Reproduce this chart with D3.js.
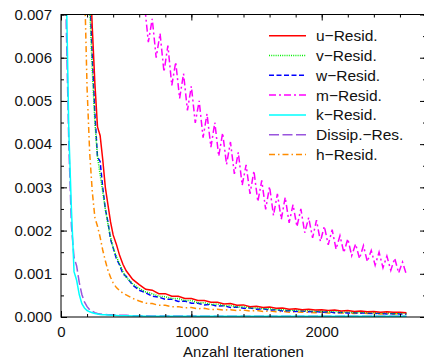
<!DOCTYPE html>
<html>
<head>
<meta charset="utf-8">
<script src="https://cdn.jsdelivr.net/npm/d3@7"></script>
<style>
  body { margin: 0; background: #fff; }
  text { font-family: "Liberation Sans", Arial, sans-serif; fill: #111; }
</style>
</head>
<body>
<div id="chart"></div>
<script>
// iterations shared by u, v, w, k, Dissip and h residuals
var iters = [0,20,40,60,80,100,120,140,160,180,200,220,240,260,280,300,320,340,360,380,400,425,450,475,500,
  550,600,650,700,750,800,850,900,950,1000,1050,1100,1150,1200,1250,1300,1350,1400,1450,1500,1550,1600,1650,
  1700,1750,1800,1850,1900,1950,2000,2050,2100,2150,2200,2250,2300,2350,2400,2450,2500,2550,2600,2650];

var uResid = [0.05,0.045,0.04,0.035,0.03,0.026,0.022,0.019,0.016,0.013,0.0105,0.0082,0.0067,0.0054,0.0044,0.0042,0.00365,0.0030,0.0026,0.0022,0.0019,0.00168,0.00142,0.00122,0.00107,
  0.00087,0.00075,0.00064,0.00062,0.00054,0.00054,0.00048,0.00048,0.00043,0.00043,0.00038,0.00038,0.00034,0.00034,0.00030,0.00031,0.00027,0.00028,0.00024,0.00025,0.00022,0.00023,0.00020,
  0.00021,0.00018,0.00019,0.00017,0.00018,0.00016,0.00017,0.00015,0.00016,0.00014,0.00015,0.00013,0.00014,0.00012,0.00013,0.00011,0.00012,0.00011,0.00011,0.00010];

var vResid = [0.05,0.045,0.04,0.035,0.03,0.025,0.021,0.018,0.015,0.012,0.0095,0.0072,0.0057,0.0045,0.0037,0.0033,0.0029,0.0025,0.00215,0.00185,0.0016,0.0014,0.00122,0.00105,0.00092,
  0.00077,0.00066,0.00058,0.00054,0.00048,0.00047,0.00043,0.00043,0.00038,0.00038,0.00033,0.00033,0.00029,0.00030,0.00026,0.00027,0.00023,0.00024,0.00021,0.00021,0.00019,0.00019,0.00017,
  0.00017,0.00015,0.00016,0.00014,0.00015,0.00013,0.00014,0.00012,0.00013,0.00011,0.00012,0.00010,0.00011,0.00010,0.00010,0.00009,0.00010,0.00008,0.00009,0.00008];

var wResid = [0.05,0.045,0.04,0.035,0.03,0.025,0.021,0.018,0.015,0.012,0.0098,0.0075,0.0060,0.0047,0.0037,0.0036,0.0030,0.0025,0.0022,0.0018,0.0016,0.00135,0.0012,0.00100,0.00094,
  0.00074,0.00062,0.00056,0.00048,0.00046,0.00041,0.00041,0.00036,0.00037,0.00032,0.00032,0.00028,0.00029,0.00025,0.00026,0.00022,0.00023,0.00020,0.00021,0.00018,0.00019,0.00016,0.00017,
  0.00014,0.00015,0.00013,0.00014,0.00012,0.00013,0.00011,0.00012,0.00010,0.00011,0.00009,0.00010,0.00009,0.00009,0.00008,0.00009,0.00007,0.00008,0.00007,0.00007];

var kResid = [0.05,0.02,0.0078,0.0043,0.0025,0.00105,0.00085,0.00052,0.00031,0.00021,0.00015,0.00012,0.0001,0.00008,0.00007,0.00006,0.00005,0.00005,0.000045,0.00004,0.00004,0.000035,0.00003,0.00003,0.00003,
  0.000025,0.000025,0.00002,0.00002,0.00002,0.00002,0.00002,0.00002,0.00002,0.00002,0.000015,0.000015,0.000015,0.000015,0.000015,0.000015,0.000015,0.000015,0.000015,0.000015,0.000015,0.000015,0.000015,
  0.000015,0.000015,0.000015,0.000015,0.000015,0.000015,0.000015,0.000015,0.000015,0.000015,0.000015,0.000015,0.000015,0.000015,0.000015,0.000015,0.000015,0.000015,0.000015,0.000015];

var dissipRes = [0.05,0.02,0.0068,0.0040,0.0021,0.00138,0.00118,0.0008,0.00052,0.00035,0.00024,0.00017,0.00013,0.0001,0.00008,0.00007,0.00006,0.00006,0.00005,0.00005,0.00005,0.00004,0.00004,0.00004,0.00004,
  0.00003,0.00003,0.00003,0.000025,0.000025,0.000025,0.000025,0.000025,0.000025,0.000025,0.00002,0.00002,0.00002,0.00002,0.00002,0.00002,0.00002,0.00002,0.00002,0.00002,0.00002,0.00002,0.00002,
  0.000015,0.000015,0.000015,0.000015,0.000015,0.000015,0.000015,0.000015,0.000015,0.000015,0.000015,0.000015,0.000015,0.000015,0.000015,0.000015,0.000015,0.000015,0.000015,0.000015];

var hResid = [0.05,0.045,0.04,0.035,0.03,0.026,0.021,0.016,0.0115,0.0078,0.0053,0.0038,0.0029,0.0023,0.0021,0.00185,0.00155,0.0013,0.00108,0.00092,0.00079,0.00068,0.00061,0.00055,0.00051,
  0.00043,0.00037,0.00032,0.00031,0.00027,0.00027,0.00024,0.00024,0.00021,0.00022,0.00019,0.00020,0.00017,0.00018,0.00016,0.00017,0.00015,0.00016,0.00014,0.00015,0.00013,0.00014,0.00012,
  0.00013,0.00011,0.00012,0.00011,0.00011,0.00010,0.00011,0.00009,0.00010,0.00009,0.00010,0.00008,0.00009,0.00008,0.00009,0.00007,0.00008,0.00007,0.00008,0.00007];

// m residual has its own zigzag sampling
var mIters = [620,640,670,700,730,760,790,820,850,880,910,940,970,1000,1030,1060,1090,1120,1150,1180,1210,1240,1270,1300,1330,
  1360,1390,1420,1450,1480,1510,1540,1570,1600,1630,1660,1690,1720,1750,1780,1810,1840,1870,1900,1930,1960,1990,2020,2050,
  2080,2110,2140,2170,2200,2230,2260,2290,2320,2350,2380,2410,2440,2470,2500,2530,2560,2590,2620,2650];
var mResid = [0.0078,0.00726,0.00636,0.00690,0.00600,0.00656,0.00567,0.00628,0.00536,0.00590,0.00506,0.00563,0.00478,0.00534,0.00449,0.00500,0.00415,0.00470,0.00393,0.00450,0.00372,0.00426,0.00353,0.00405,0.00331,
  0.00381,0.00305,0.00352,0.00285,0.00338,0.00267,0.00316,0.00249,0.00302,0.00235,0.00285,0.00226,0.00277,0.00218,0.00260,0.00209,0.00250,0.00195,0.00230,0.00183,0.00224,0.00175,0.00210,0.00167,
  0.00202,0.00157,0.00188,0.00149,0.00181,0.00142,0.00169,0.00135,0.00165,0.00128,0.00154,0.00120,0.00150,0.00114,0.00141,0.00108,0.00136,0.00102,0.00127,0.00098];

var legendLabels = ["u\u2212Resid.", "v\u2212Resid.", "w\u2212Resid.", "m\u2212Resid.", "k\u2212Resid.", "Dissip.\u2212Res.", "h\u2212Resid."];
var xTickValues = [0, 1000, 2000];
var yTickValues = [0, 0.001, 0.002, 0.003, 0.004, 0.005, 0.006, 0.007];

var svgWidth = 424;
var svgHeight = 361;
var plot = { left: 61, top: 14.5, right: 426, bottom: 317 };

var svg = d3.select("#chart")
  .append("svg")
  .attr("width", svgWidth)
  .attr("height", svgHeight);

var xScale = d3.scaleLinear().domain([0, 2800]).range([plot.left, plot.right]);
var yScale = d3.scaleLinear().domain([0, 0.007]).range([plot.bottom, plot.top]);

svg.append("clipPath").attr("id", "plotclip")
  .append("rect")
  .attr("x", plot.left).attr("y", plot.top)
  .attr("width", plot.right - plot.left).attr("height", plot.bottom - plot.top);

// series styling
var series = [
  { name: legendLabels[0], xs: iters, ys: uResid, color: "#ff0000", dash: null },
  { name: legendLabels[1], xs: iters, ys: vResid, color: "#00ee00", dash: "1,1.2" },
  { name: legendLabels[2], xs: iters, ys: wResid, color: "#0000ff", dash: "5,2.5" },
  { name: legendLabels[3], xs: mIters, ys: mResid, color: "#ff00ff", dash: "7,3,2,3" },
  { name: legendLabels[4], xs: iters, ys: kResid, color: "#00ffff", dash: null },
  { name: legendLabels[5], xs: iters, ys: dissipRes, color: "#9955dd", dash: "10,3.5" },
  { name: legendLabels[6], xs: iters, ys: hResid, color: "#ff8c00", dash: "6,3,1.5,3" }
];

var line = d3.line()
  .x(d => xScale(d[0]))
  .y(d => yScale(d[1]));

var curves = svg.append("g").attr("clip-path", "url(#plotclip)");

// draw in reverse so u-Resid ends on top
series.slice().reverse().forEach(function(s) {
  curves.append("path")
    .datum(s.xs.map((x, i) => [x, s.ys[i]]))
    .attr("d", line)
    .attr("fill", "none")
    .attr("stroke", s.color)
    .attr("stroke-width", 1.5)
    .attr("stroke-dasharray", s.dash);
});

// frame
svg.append("rect")
  .attr("x", plot.left).attr("y", plot.top)
  .attr("width", plot.right - plot.left).attr("height", plot.bottom - plot.top)
  .attr("fill", "none").attr("stroke", "#000").attr("stroke-width", 1);

// axes with inward ticks, mirrored on top and right
var xMinor = d3.range(0, 2801, 200);
var yMinor = d3.range(0, 0.00701, 0.0005);

function styleAxis(g) {
  g.select(".domain").remove();
  g.selectAll(".tick line").attr("stroke", "#000");
}

svg.append("g").attr("transform", `translate(0,${plot.bottom})`)
  .call(d3.axisBottom(xScale).tickValues(xMinor).tickSize(-3).tickFormat(""))
  .call(styleAxis);
svg.append("g").attr("transform", `translate(0,${plot.top})`)
  .call(d3.axisTop(xScale).tickValues(xMinor).tickSize(-3).tickFormat(""))
  .call(styleAxis);
svg.append("g").attr("transform", `translate(${plot.left},0)`)
  .call(d3.axisLeft(yScale).tickValues(yMinor).tickSize(-3).tickFormat(""))
  .call(styleAxis);
svg.append("g").attr("transform", `translate(${plot.right},0)`)
  .call(d3.axisRight(yScale).tickValues(yMinor).tickSize(-3).tickFormat(""))
  .call(styleAxis);

svg.append("g").attr("transform", `translate(0,${plot.bottom})`)
  .call(d3.axisBottom(xScale).tickValues(xTickValues).tickSize(-6).tickPadding(9).tickFormat(d3.format("d")))
  .call(styleAxis);
svg.append("g").attr("transform", `translate(0,${plot.top})`)
  .call(d3.axisTop(xScale).tickValues(xTickValues).tickSize(-6).tickFormat(""))
  .call(styleAxis);
svg.append("g").attr("transform", `translate(${plot.left},0)`)
  .call(d3.axisLeft(yScale).tickValues(yTickValues).tickSize(-6).tickPadding(9).tickFormat(d3.format(".3f")))
  .call(styleAxis);
svg.append("g").attr("transform", `translate(${plot.right},0)`)
  .call(d3.axisRight(yScale).tickValues(yTickValues).tickSize(-6).tickFormat(""))
  .call(styleAxis);

svg.selectAll(".tick text")
  .style("font-family", "'Liberation Sans', Arial, sans-serif")
  .style("font-size", "15px")
  .attr("fill", "#111");

// axis label
svg.append("text")
  .attr("x", (plot.left + plot.right) / 2)
  .attr("y", 357)
  .attr("text-anchor", "middle")
  .style("font-size", "15px")
  .text("Anzahl Iterationen");

// legend
var legend = svg.append("g");
series.forEach(function(s, i) {
  var ly = 35.7 + i * 19.8;
  legend.append("line")
    .attr("x1", 269).attr("x2", 306)
    .attr("y1", ly).attr("y2", ly)
    .attr("stroke", s.color)
    .attr("stroke-width", 1.5)
    .attr("stroke-dasharray", s.dash);
  legend.append("text")
    .attr("x", 316)
    .attr("y", ly)
    .attr("dy", "0.35em")
    .style("font-size", "15.5px")
    .text(s.name);
});
</script>
</body>
</html>
